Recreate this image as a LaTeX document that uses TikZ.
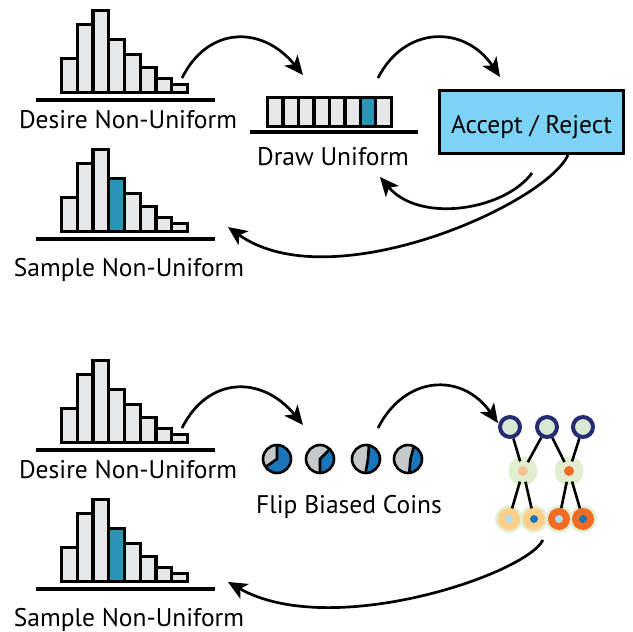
\documentclass[tikz,border=0pt]{standalone}
\usepackage{fontspec}
\setmainfont{PT Sans}
\usetikzlibrary{arrows.meta,calc}
\definecolor{barfill}{HTML}{E6E7E8}
\definecolor{hlteal}{HTML}{2A95B6}
\definecolor{boxblue}{HTML}{7DD3F6}
\definecolor{coingray}{HTML}{C7C8CA}
\definecolor{coinblue}{HTML}{1B75BB}
\definecolor{navy}{HTML}{262A73}
\definecolor{paleg}{HTML}{D7E9D3}
\definecolor{halo}{HTML}{E3EDCF}
\definecolor{peach}{HTML}{F9C29B}
\definecolor{orng}{HTML}{F26B22}
\definecolor{lorng}{HTML}{FDCF88}
\definecolor{lblue}{HTML}{B3DCF4}
\tikzset{
  barbox/.style={draw=black, line width=3.2pt, fill=barfill},
  baseln/.style={line width=3.5pt},
  flow/.style={line width=2.7pt, -{Stealth[length=19pt,width=17pt,inset=5pt]}},
  lbl/.style={font=\fontsize{25.5}{28}\selectfont, anchor=base, inner sep=0pt},
  coinline/.style={line width=2.6pt},
  topnode/.style={circle, draw=navy, fill=paleg, line width=4pt, minimum size=20pt, inner sep=0pt},
  middot/.style={circle, minimum size=10pt, inner sep=0pt, outer sep=0pt},
  botnode/.style={circle, minimum size=22pt, inner sep=0pt, outer sep=0pt},
  nnedge/.style={line width=2.6pt},
}
\newcommand\myhisto[2]{% #1 bar bottom y (outer), #2 highlighted bar index
  \foreach \h [count=\i] in {37,71,85,56,41,28,17,11} {
    \ifnum\i=#2
      \draw[barbox, fill=hlteal] ({61.6+(\i-1)*15.72}, #1-1.6) rectangle ++(15.72, -\h+3.2);
    \else
      \draw[barbox] ({61.6+(\i-1)*15.72}, #1-1.6) rectangle ++(15.72, -\h+3.2);
    \fi
  }
  \draw[baseln] (36, #1+6) -- (215, #1+6);
}
\begin{document}
\begin{tikzpicture}[x=1pt, y=-1pt]
\useasboundingbox (0,0) rectangle (633,632);

% ---------- top half ----------
\myhisto{94}{0}
\node[lbl] (desire1) at (128,128) {Desire Non-Uniform};

\myhisto{233}{4}
\node[lbl] (sample1) at (129,276) {Sample Non-Uniform};

% uniform box
\foreach \i in {1,...,8} {
  \ifnum\i=7
    \draw[barbox, fill=hlteal] ({267.6+(\i-1)*15.47}, 97.6) rectangle ++(15.47, 28.8);
  \else
    \draw[barbox] ({267.6+(\i-1)*15.47}, 97.6) rectangle ++(15.47, 28.8);
  \fi
}
\draw[baseln] (250,132) -- (418,132);
\node[lbl] (draw) at (333,165) {Draw Uniform};

\node[draw=black, line width=2.6pt, fill=boxblue, minimum width=184.4pt, minimum height=63.4pt,
      inner sep=0pt] (ar) at (531.5,122) {};
\node[lbl] (artext) at (531.5,133) {Accept / Reject};

\coordinate (a1s) at (182,78);  \coordinate (a1e) at (303,75);
\coordinate (a2s) at (378,78);  \coordinate (a2e) at (500,77);
\coordinate (a3s) at (532,173); \coordinate (a3e) at (380,177);
\coordinate (a4s) at (568,155); \coordinate (a4e) at (228,227);
\draw[flow] (a1s) .. controls (208,26) and (262,25) .. (a1e);
\draw[flow] (a2s) .. controls (405,25) and (465,25) .. (a2e);
\draw[flow] (a3s) .. controls (505,210) and (420,224) .. (a3e);
\draw[flow] (a4s) .. controls (545,205) and (330,300) .. (a4e);

% ---------- bottom half ----------
\myhisto{444}{0}
\node[lbl] (desire2) at (128,478) {Desire Non-Uniform};

\myhisto{583}{4}
\node[lbl] (sample2) at (129,626) {Sample Non-Uniform};

% coins
\begin{scope}[shift={(277,459)}, y=1pt]
  \fill[coingray] (0,0) circle (14);
  \fill[coinblue] (0,0) -- (90:14) arc[start angle=90, end angle=-145, radius=14] -- cycle;
  \draw[coinline] (90:14) -- (0,0) -- (215:14);
  \draw[coinline] (0,0) circle (14);
\end{scope}
\begin{scope}[shift={(320,459)}, y=1pt]
  \fill[coingray] (0,0) circle (14);
  \fill[coinblue] (0,0) -- (45:14) arc[start angle=45, end angle=-90, radius=14] -- cycle;
  \draw[coinline] (45:14) -- (0,0) -- (-90:14);
  \draw[coinline] (0,0) circle (14);
\end{scope}
\begin{scope}[shift={(366,459)}, y=1pt]
  \fill[coingray] (0,0) circle (14);
  \fill[coinblue] (78:14) arc[start angle=78, end angle=-92, radius=14] -- (2,0) -- cycle;
  \draw[coinline] (78:14) -- (2,0) -- (-92:14);
  \draw[coinline] (0,0) circle (14);
\end{scope}
\begin{scope}[shift={(408,459)}, y=1pt]
  \fill[coingray] (0,0) circle (14);
  \fill[coinblue] (65:14) arc[start angle=65, end angle=-85, radius=14] -- (2.5,0) -- cycle;
  \draw[coinline] (65:14) -- (2.5,0) -- (-85:14);
  \draw[coinline] (0,0) circle (14);
\end{scope}
\node[lbl] (coins) at (349,513) {Flip Biased Coins};

% network
\fill[halo] (523,471) circle (14.5);
\fill[halo] (569,471) circle (14.5);
\foreach \x in {509,534,559,583} \fill[halo] (\x,519) circle (13.7);
\node[topnode] (t1) at (510,427) {};
\node[topnode] (t2) at (547,427) {};
\node[topnode] (t3) at (583,427) {};
\node[middot, fill=peach] (m1) at (523,471) {};
\node[middot, fill=orng] (m2) at (569,471) {};
\node[botnode, fill=lorng] (b1) at (509,519) {};
\node[botnode, fill=lorng] (b2) at (534,519) {};
\node[botnode, fill=orng] (b3) at (559,519) {};
\node[botnode, fill=orng] (b4) at (583,519) {};
\foreach \n/\c in {b1/lblue, b2/coinblue, b3/lblue, b4/coinblue}
  \fill[\c] (\n) circle (4);
\draw[nnedge, shorten >=5pt] (t1) -- (m1);
\draw[nnedge, shorten >=5pt] (t2) -- (m1);
\draw[nnedge, shorten >=5pt] (t2) -- (m2);
\draw[nnedge, shorten >=5pt] (t3) -- (m2);
\draw[nnedge, shorten <=6pt] (m1) -- (b1);
\draw[nnedge, shorten <=6pt] (m1) -- (b2);
\draw[nnedge, shorten <=6pt] (m2) -- (b3);
\draw[nnedge, shorten <=6pt] (m2) -- (b4);

\coordinate (b1s) at (182,428);  \coordinate (b1e) at (303,425);
\coordinate (b2s) at (378,428);  \coordinate (b2e) at (498,423);
\coordinate (b3s) at (543,540);  \coordinate (b3e) at (228,582);
\draw[flow] (b1s) .. controls (208,376) and (262,375) .. (b1e);
\draw[flow] (b2s) .. controls (405,375) and (462,372) .. (b2e);
\draw[flow] (b3s) .. controls (525,575) and (330,640) .. (b3e);
\end{tikzpicture}
\end{document}
